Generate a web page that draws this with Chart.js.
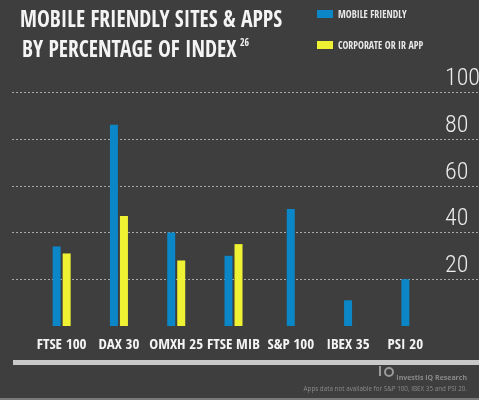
<!DOCTYPE html>
<html>
<head>
<meta charset="utf-8">
<script src="https://cdn.jsdelivr.net/npm/chart.js@4/dist/chart.umd.min.js"></script>
<style>
  html, body { margin: 0; padding: 0; background: #3e3e3e; }
  #wrap { position: relative; width: 479px; height: 400px; overflow: hidden; background: #3e3e3e; }
  #wrap canvas { position: absolute; left: 0; top: 0; }
  .title { position: absolute; left: 20px; color: #f4f4f4; font-family: "Open Sans Condensed", sans-serif;
           font-weight: bold; font-size: 24px; line-height: 24px; white-space: nowrap;
           transform-origin: left top; transform: scaleX(0.9); }
  .title sup { font-size: 11px; line-height: 11px; vertical-align: 11px; margin-left: 4px; }
  .legend-item { position: absolute; left: 317px; height: 9px; display: flex; align-items: center; white-space: nowrap; }
  .legend-item .box { width: 16px; height: 8px; margin-right: 5px; }
  .legend-item .txt { color: #e8e8e8; font-family: "Open Sans Condensed", sans-serif; font-weight: bold; font-size: 11px;
                      transform-origin: left center; transform: scaleX(0.9); }
  .foot { position: absolute; right: 12px; color: #8a8a8a; font-family: "Open Sans", sans-serif; white-space: nowrap; }
  #logo-bar { position: absolute; left: 379px; top: 366px; width: 2px; height: 10px; background: #9a9a9a; }
  #logo-ring { position: absolute; left: 384px; top: 367px; width: 6px; height: 6px; border: 2px solid #9a9a9a; border-radius: 50%; }
  #bottom-line { position: absolute; left: 0; right: 0; bottom: 0; height: 2px; background: #7a7a7a; }
</style>
</head>
<body>
<div id="wrap">
  <canvas id="chart" width="479" height="400"></canvas>
  <div class="title" style="top:6px">MOBILE FRIENDLY SITES &amp; APPS</div>
  <div class="title" style="top:36px; left:22px">BY PERCENTAGE OF INDEX<sup>26</sup></div>
  <div id="legend"></div>
  <div id="logo-bar"></div>
  <div id="logo-ring"></div>
  <div class="foot" style="top:373px; font-size:7px; font-weight:bold">Investis IQ Research</div>
  <div class="foot" style="top:384px; font-size:6.3px">Apps data not available for S&amp;P 100, IBEX 35 and PSI 20.</div>
  <div id="bottom-line"></div>
</div>
<script>
// categorías e índices
const categories = ['FTSE 100', 'DAX 30', 'OMXH 25', 'FTSE MIB', 'S&P 100', 'IBEX 35', 'PSI 20'];
// porcentaje de sitios "mobile friendly"
const mobileFriendly = [34, 86, 40, 30, 50, 11, 20];
// porcentaje con app corporativa o de IR (sin datos para los tres últimos)
const corporateApp = [31, 47, 28, 35, null, null, null];
const seriesNames = ['MOBILE FRIENDLY', 'CORPORATE OR IR APP'];
const seriesColors = ['#0b86c6', '#eff232'];
const yMax = 100;
const yStep = 20;

// líneas punteadas a todo lo ancho + barra gris bajo las etiquetas
const decoPlugin = {
    id: 'deco',
    beforeDatasetsDraw(chart) {
        const ctx = chart.ctx;
        const y = chart.scales.y;
        ctx.save();
        ctx.strokeStyle = '#a8a8a8';
        ctx.lineWidth = 1;
        ctx.setLineDash([2, 2]);
        y.ticks.forEach(t => {
            if (t.value === 0) return;
            const py = Math.round(y.getPixelForValue(t.value)) + 0.5;
            ctx.beginPath();
            ctx.moveTo(12, py);
            ctx.lineTo(chart.width, py);
            ctx.stroke();
        });
        ctx.restore();
    },
    afterDraw(chart) {
        const ctx = chart.ctx;
        ctx.save();
        ctx.fillStyle = '#c9c9c9';
        ctx.fillRect(13, 360, chart.width - 13, 5);
        ctx.restore();
    }
};

const chart = new Chart(document.getElementById('chart'), {
    type: 'bar',
    data: {
        labels: categories,
        datasets: [
            { label: seriesNames[0], data: mobileFriendly, backgroundColor: seriesColors[0] },
            { label: seriesNames[1], data: corporateApp, backgroundColor: seriesColors[1] }
        ]
    },
    options: {
        responsive: false,
        animation: false,
        skipNull: true,
        categoryPercentage: 0.35,
        barPercentage: 0.8,
        maxBarThickness: 8,
        layout: { padding: { left: 33, top: 92, right: 0, bottom: 0 } },
        plugins: {
            legend: { display: false },
            tooltip: { enabled: false }
        },
        scales: {
            x: {
                grid: { display: false, drawTicks: false },
                border: { display: false },
                ticks: {
                    color: '#f4f4f4',
                    padding: 10,
                    maxRotation: 0,
                    autoSkip: false,
                    font: { family: "'Open Sans Condensed'", weight: 'bold', size: 15 }
                },
                afterFit: s => { s.height = 74; }
            },
            y: {
                position: 'right',
                min: 0,
                max: yMax,
                grid: { display: false, drawTicks: false },
                border: { display: false },
                ticks: {
                    stepSize: yStep,
                    color: '#ececec',
                    padding: 11,
                    labelOffset: -13,
                    font: { family: "'Roboto Condensed'", weight: 300, size: 24 },
                    callback: v => v === 0 ? '' : v
                },
                afterFit: s => { s.width = 45; }
            }
        }
    },
    plugins: [decoPlugin]
});

// leyenda en HTML a partir de los datasets
const legend = document.getElementById('legend');
chart.data.datasets.forEach((ds, i) => {
    const item = document.createElement('div');
    item.className = 'legend-item';
    item.style.top = (i === 0 ? 9 : 40) + 'px';
    const box = document.createElement('span');
    box.className = 'box';
    box.style.background = ds.backgroundColor;
    const txt = document.createElement('span');
    txt.className = 'txt';
    txt.textContent = ds.label;
    item.appendChild(box);
    item.appendChild(txt);
    legend.appendChild(item);
});
</script>
</body>
</html>
